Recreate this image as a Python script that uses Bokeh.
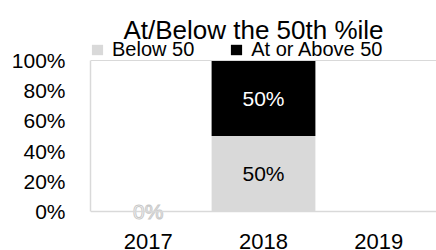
import math
from bokeh.plotting import figure
from bokeh.models import (ColumnDataSource, FactorRange, Range1d, NumeralTickFormatter,
                          FixedTicker, Legend, LegendItem, Label, Span)
from bokeh.core.properties import value
from bokeh.embed import file_html
from bokeh.resources import INLINE

# ---- data ----
years = ["2017", "2018", "2019"]
below_50 = [0.0, 0.5, float("nan")]
above_50 = [0.0, 0.5, float("nan")]
y_ticks = [0, 0.2, 0.4, 0.6, 0.8, 1.0]
title_text = "At/Below the 50th %ile"

GRAY = "#d9d9d9"
FONT = "Liberation Sans"

PX = 151.0  # pixels per 100%
p = figure(width=436, height=250, x_range=FactorRange(*years, range_padding=0),
           y_range=Range1d(-39 / PX, 211 / PX), output_backend="svg",
           toolbar_location=None, x_axis_location=None,
           min_border_left=90, min_border_right=0, min_border_top=0,
           min_border_bottom=0)
p.outline_line_color = None
p.xgrid.grid_line_color = None
p.ygrid.grid_line_color = None
p.background_fill_color = "white"
p.border_fill_color = "white"

src = ColumnDataSource(dict(years=years, below=below_50, above=above_50))
rs = p.vbar_stack(["below", "above"], x="years", width=0.9, source=src,
                  color=[GRAY, "black"], line_color=None)

# frame lines (top at 100%, bottom at 0%)
p.add_layout(Span(location=1.0, dimension="width", line_color=GRAY, line_width=1))
p.add_layout(Span(location=0.0, dimension="width", line_color=GRAY, line_width=1.5))

# data labels
lab_x, lab_y, lab_t, lab_c = [], [], [], []
zero_x, zero_y, zero_t = [], [], []
for yr, b, a in zip(years, below_50, above_50):
    if math.isnan(b):
        continue
    if b == 0:
        zero_x.append(yr); zero_y.append(0.0); zero_t.append(f"{b:.0%}")
    else:
        lab_x.append(yr); lab_y.append(b / 2); lab_t.append(f"{b:.0%}"); lab_c.append("black")
    if not math.isnan(a) and a > 0:
        lab_x.append(yr); lab_y.append(b + a / 2); lab_t.append(f"{a:.0%}"); lab_c.append("white")

p.text(x=lab_x, y=lab_y, text=lab_t, text_color=lab_c, text_align="center",
       text_baseline="middle", text_font_size="21px", text_font=value(FONT))
p.text(x=zero_x, y=zero_y, text=zero_t, text_color="white", text_outline_color="#c8c8c8",
       text_align="center", text_baseline="middle", text_font_size="21px",
       text_font=value(FONT))

# category labels below the 0% line
p.text(x=years, y=[0.0] * len(years), text=years, y_offset=22, text_align="center",
       text_baseline="top", text_font_size="22px", text_font=value(FONT),
       text_color="black")

# y axis
p.yaxis.ticker = FixedTicker(ticks=y_ticks)
p.yaxis.formatter = NumeralTickFormatter(format="0%")
p.yaxis.bounds = (0, 1)
p.yaxis.axis_line_color = GRAY
p.yaxis.axis_line_width = 1.5
p.yaxis.major_tick_line_color = None
p.yaxis.minor_tick_line_color = None
p.yaxis.major_tick_out = 0
p.yaxis.major_tick_in = 0
p.yaxis.major_label_text_font = FONT
p.yaxis.major_label_text_font_size = "21px"
p.yaxis.major_label_text_color = "black"
p.yaxis.major_label_standoff = 25

# title
p.add_layout(Label(x=1.413, y=197 / PX, text=title_text, text_font=FONT,
                   text_font_size="26px", text_align="center",
                   text_baseline="top", text_color="black"))

# legend
legend = Legend(items=[LegendItem(label="Below 50", renderers=[rs[0]]),
                       LegendItem(label="At or Above 50", renderers=[rs[1]])],
                orientation="horizontal", location=(0, 189))
legend.padding = 0
legend.margin = 0
legend.spacing = 35
legend.glyph_width = 14
legend.glyph_height = 13
legend.label_height = 24
legend.label_standoff = 8
legend.label_text_font = FONT
legend.label_text_font_size = "20px"
legend.label_text_color = "black"
legend.border_line_color = None
legend.background_fill_alpha = 0
p.add_layout(legend)

open("out.html", "w").write(file_html(p, INLINE))
